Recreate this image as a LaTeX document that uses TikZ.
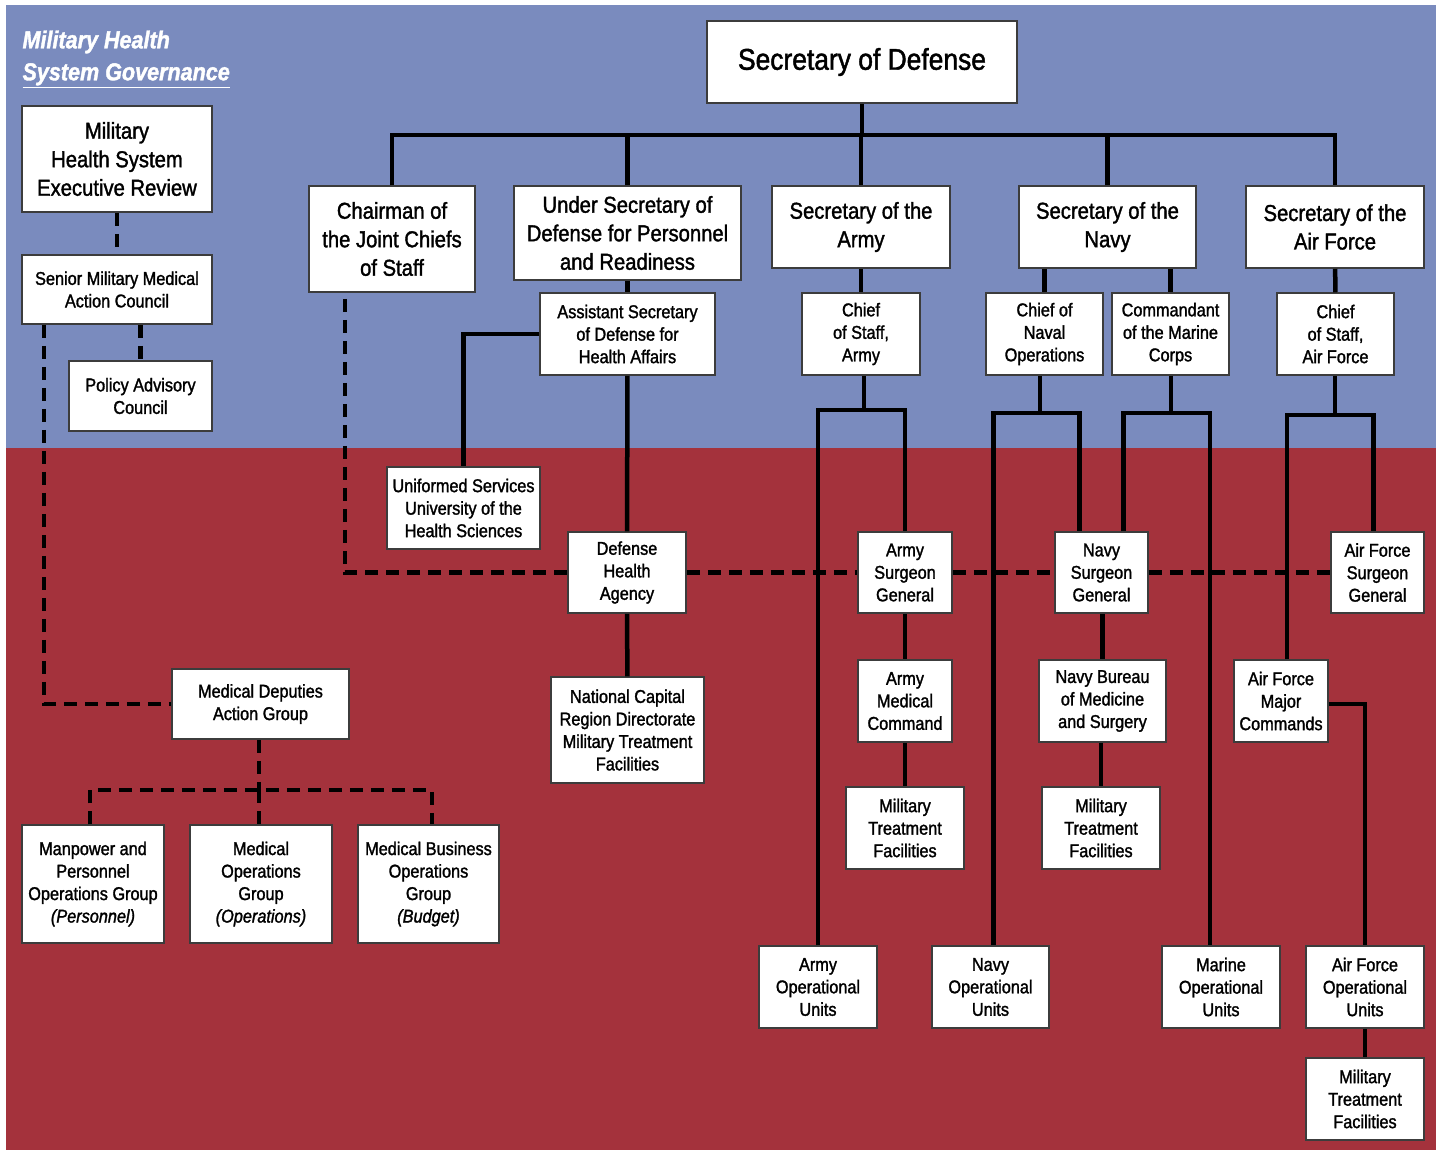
\documentclass[tikz,border=0pt]{standalone}
\usepackage{fontspec}
\setmainfont[FakeStretch=0.88, FakeBold=1.5]{Liberation Sans}
\definecolor{govblue}{RGB}{122, 139, 190}
\definecolor{govred}{RGB}{164, 50, 60}
\definecolor{boxedge}{RGB}{60, 60, 60}
\usepackage{tikz}
\usetikzlibrary{positioning, calc}

\begin{document}
\begin{tikzpicture}[x=1pt, y=-1pt,
    orgbox/.style={draw=boxedge, fill=white, line width=1.5pt, align=center, inner sep=0pt},
    smalltxt/.style={orgbox, font=\fontsize{18.5}{22.5}\selectfont},
    midtxt/.style={orgbox, font=\fontsize{23}{28.5}\selectfont},
    orgline/.style={line width=4.5pt, black},
    dashline/.style={line width=4.5pt, black, dash pattern=on 13pt off 8pt}]
    \fill[white] (0,0) rectangle (1440,1152);
    \fill[govblue] (6,5) rectangle (1436,448);
    \fill[govred] (6,448) rectangle (1436,1150);
    \node[anchor=north west, align=left, text=white, font=\fontsize{24.5}{32}\selectfont\bfseries\itshape]
          (title) at (19,27) {Military Health\\\underline{System Governance}};
    % top level
    \node[orgbox, font=\fontsize{30}{36}\selectfont, minimum width=310pt, minimum height=82pt]
          (sod) at (862,62) {Secretary of Defense};
    \node[midtxt, minimum width=190pt, minimum height=106pt] (mhs) at (117,159) {Military\\Health System\\Executive Review};
    \node[smalltxt, minimum width=190pt, minimum height=69pt] (smmac) at (117,289.5) {Senior Military Medical\\Action Council};
    \node[smalltxt, minimum width=143pt, minimum height=70pt] (pac) at (140.5,396) {Policy Advisory\\Council};
    \node[midtxt, minimum width=166pt, minimum height=106pt] (chair) at (392,239) {Chairman of\\the Joint Chiefs\\of Staff};
    \node[midtxt, minimum width=227pt, minimum height=94pt] (usd) at (627.5,233) {Under Secretary of\\Defense for Personnel\\and Readiness};
    \node[midtxt, minimum width=178pt, minimum height=82pt] (sarmy) at (861,227) {Secretary of the\\Army};
    \node[midtxt, minimum width=177pt, minimum height=82pt] (snavy) at (1107.5,227) {Secretary of the\\Navy};
    \node[midtxt, minimum width=178pt, minimum height=82pt] (saf) at (1335,227) {Secretary of the\\Air Force};
    % second row
    \node[smalltxt, minimum width=175pt, minimum height=82pt] (asd) at (627.5,334) {Assistant Secretary\\of Defense for\\Health Affairs};
    \node[smalltxt, minimum width=118pt, minimum height=82pt] (csa) at (861,334) {Chief\\of Staff,\\Army};
    \node[smalltxt, minimum width=117pt, minimum height=82pt] (cno) at (1044.5,334) {Chief of\\Naval\\Operations};
    \node[smalltxt, minimum width=117pt, minimum height=82pt] (cmc) at (1170.5,334) {Commandant\\of the Marine\\Corps};
    \node[smalltxt, minimum width=117pt, minimum height=82pt] (csaf) at (1335.5,334) {Chief\\of Staff,\\Air Force};
    % medical side
    \node[smalltxt, minimum width=153pt, minimum height=82pt] (usu) at (463.5,508) {Uniformed Services\\University of the\\Health Sciences};
    \node[smalltxt, minimum width=118pt, minimum height=81pt] (dha) at (627,572.5) {Defense\\Health\\Agency};
    \node[smalltxt, minimum width=94pt, minimum height=81pt] (asg) at (905,572.5) {Army\\Surgeon\\General};
    \node[smalltxt, minimum width=93pt, minimum height=81pt] (nsg) at (1101.5,572.5) {Navy\\Surgeon\\General};
    \node[smalltxt, minimum width=93pt, minimum height=81pt] (afsg) at (1377.5,572.5) {Air Force\\Surgeon\\General};
    \node[smalltxt, minimum width=177pt, minimum height=70pt] (mdag) at (260.5,704) {Medical Deputies\\Action Group};
    \node[smalltxt, minimum width=153pt, minimum height=106pt] (ncr) at (627.5,730) {National Capital\\Region Directorate\\Military Treatment\\Facilities};
    \node[smalltxt, minimum width=94pt, minimum height=82pt] (medcom) at (905,701) {Army\\Medical\\Command};
    \node[smalltxt, minimum width=127pt, minimum height=82pt] (bumed) at (1102.5,701) {Navy Bureau\\of Medicine\\and Surgery};
    \node[smalltxt, minimum width=94pt, minimum height=82pt] (afmaj) at (1281,701) {Air Force\\Major\\Commands};
    \node[smalltxt, minimum width=118pt, minimum height=82pt] (amtf) at (905,828) {Military\\Treatment\\Facilities};
    \node[smalltxt, minimum width=118pt, minimum height=82pt] (nmtf) at (1101,828) {Military\\Treatment\\Facilities};
    \node[smalltxt, minimum width=142pt, minimum height=118pt] (mpog) at (93,884) {Manpower and\\Personnel\\Operations Group\\\textit{(Personnel)}};
    \node[smalltxt, minimum width=142pt, minimum height=118pt] (mog) at (261,884) {Medical\\Operations\\Group\\\textit{(Operations)}};
    \node[smalltxt, minimum width=141pt, minimum height=118pt] (mbog) at (428.5,884) {Medical Business\\Operations\\Group\\\textit{(Budget)}};
    % operational units
    \node[smalltxt, minimum width=118pt, minimum height=82pt] (aou) at (818,987) {Army\\Operational\\Units};
    \node[smalltxt, minimum width=117pt, minimum height=82pt] (nou) at (990.5,987) {Navy\\Operational\\Units};
    \node[smalltxt, minimum width=118pt, minimum height=82pt] (mou) at (1221,987) {Marine\\Operational\\Units};
    \node[smalltxt, minimum width=118pt, minimum height=82pt] (afou) at (1365,987) {Air Force\\Operational\\Units};
    \node[smalltxt, minimum width=118pt, minimum height=82pt] (afmtf) at (1365,1099) {Military\\Treatment\\Facilities};
    % solid lines
    \coordinate (bus) at (862,135);
    \draw[orgline] (sod) -- (bus);
    \draw[orgline] (chair.north) |- (bus) -| (saf.north);
    \foreach \n in {usd, sarmy, snavy}
        \draw[orgline] (\n.north) -- (\n.north |- bus);
    \draw[orgline] (usd) -- (asd);
    \draw[orgline] (asd.west) -| (usu.north);
    \draw[orgline] (asd) -- (dha);
    \draw[orgline] (dha) -- (ncr);
    \draw[orgline] (sarmy) -- (csa);
    \draw[orgline] (snavy.south -| cno) -- (cno);
    \draw[orgline] (snavy.south -| cmc) -- (cmc);
    \draw[orgline] (saf) -- (csaf);
    \coordinate (afork) at (864,410);
    \coordinate (nfork) at (1040,413);
    \coordinate (mfork) at (1171,413);
    \coordinate (ffork) at (1335,415);
    \draw[orgline] (csa.south -| afork) -- (afork);
    \draw[orgline] (aou.north) |- (afork) -| (asg.north);
    \draw[orgline] (cno.south -| nfork) -- (nfork);
    \draw[orgline] ([xshift=3pt]nou.north) |- (nfork) -| ([xshift=-22pt]nsg.north);
    \draw[orgline] (cmc.south -| mfork) -- (mfork);
    \draw[orgline] ([xshift=22pt]nsg.north) |- (mfork) -| ([xshift=-11pt]mou.north);
    \draw[orgline] (csaf.south -| ffork) -- (ffork);
    \draw[orgline] ([xshift=6pt]afmaj.north) |- (ffork) -| ([xshift=-4pt]afsg.north);
    \draw[orgline] (asg) -- (medcom);
    \draw[orgline] (medcom) -- (amtf);
    \draw[orgline] (nsg.south -| bumed) -- (bumed);
    \draw[orgline] (bumed.south -| nmtf) -- (nmtf);
    \draw[orgline] ([yshift=-3pt]afmaj.east) -| (afou.north);
    \draw[orgline] (afou) -- (afmtf);
    % dashed lines
    \draw[dashline] (mhs) -- (smmac);
    \draw[dashline] (pac.north |- smmac.south) -- (pac.north);
    \draw[dashline] ([xshift=-73pt]smmac.south) |- (mdag.west);
    \draw[dashline, shorten <=6pt] ([xshift=-47pt]chair.south) |- (dha.west);
    \draw[dashline] (dha.east) -- (asg.west);
    \draw[dashline] (asg.east) -- (nsg.west);
    \draw[dashline] (nsg.east) -- (afsg.west);
    \coordinate (gfork) at (259,790);
    \draw[dashline] (mdag.south -| gfork) -- (gfork);
    \draw[dashline] (mpog.north -| 90,0) |- (gfork) -| (mbog.north -| 432,0);
    \draw[dashline] (gfork) -- (mog.north -| gfork);
\end{tikzpicture}
\end{document}
